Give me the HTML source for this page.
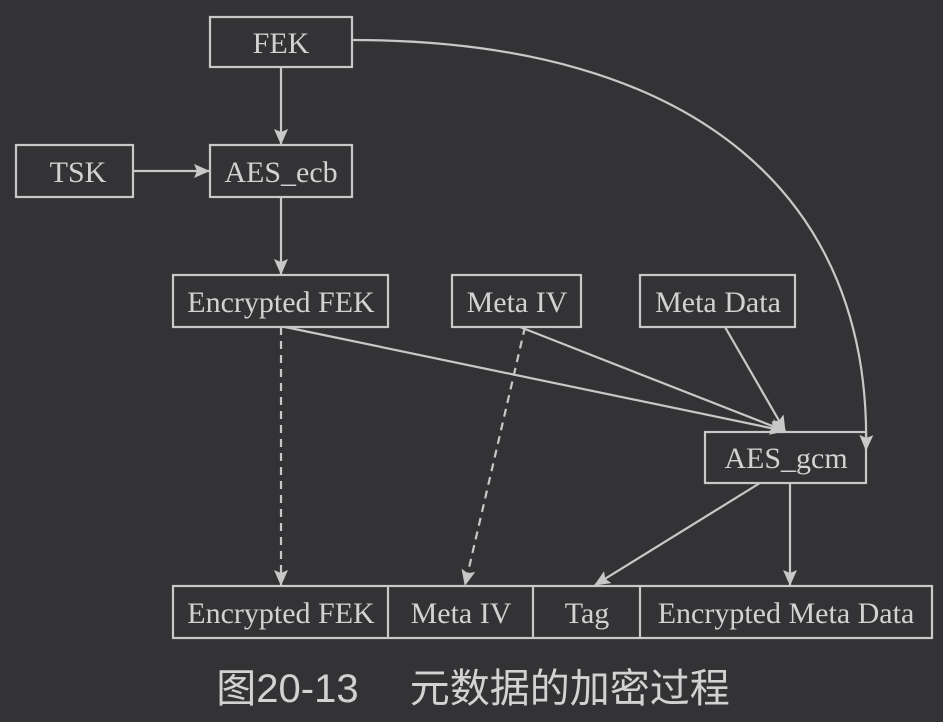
<!DOCTYPE html>
<html><head><style>
html,body{margin:0;padding:0;background:#333335;}
svg{display:block}
text{font-family:"Liberation Serif",serif;fill:#d2d2d2;font-size:30px;}
</style></head><body>
<svg width="943" height="722" viewBox="0 0 943 722">
<defs><marker id="a" markerWidth="16" markerHeight="16" refX="15" refY="8" orient="auto" markerUnits="userSpaceOnUse">
<path d="M0,1 L16,8 L0,15 L3,8 z" fill="#c8c8c8"/></marker></defs>
<g fill="none" stroke="#c8c8c8" stroke-width="2.2">
<rect x="210" y="17" width="142" height="50"/>
<rect x="16" y="145" width="117" height="52"/>
<rect x="210" y="145" width="142" height="52"/>
<rect x="173" y="275" width="215" height="52"/>
<rect x="452" y="275" width="129" height="52"/>
<rect x="640" y="275" width="155" height="52"/>
<rect x="705" y="432" width="161" height="51"/>
<rect x="173" y="586" width="759" height="52"/>
<line x1="388" y1="586" x2="388" y2="638"/>
<line x1="533" y1="586" x2="533" y2="638"/>
<line x1="640" y1="586" x2="640" y2="638"/>
<line x1="281" y1="67" x2="281" y2="144" marker-end="url(#a)"/>
<line x1="133" y1="171" x2="209" y2="171" marker-end="url(#a)"/>
<line x1="281" y1="197" x2="281" y2="274" marker-end="url(#a)"/>
<path d="M352,40 C700,40 872,200 866,450" marker-end="url(#a)"/>
<line x1="285" y1="327" x2="785" y2="431" marker-end="url(#a)"/>
<line x1="520" y1="327" x2="785" y2="431" marker-end="url(#a)"/>
<line x1="725" y1="327" x2="785" y2="431" marker-end="url(#a)"/>
<line x1="790" y1="483" x2="790" y2="585" marker-end="url(#a)"/>
<line x1="760" y1="483" x2="595" y2="585" marker-end="url(#a)"/>
<line x1="281" y1="327" x2="281" y2="585" stroke-dasharray="8,6" marker-end="url(#a)"/>
<line x1="525" y1="327" x2="465" y2="585" stroke-dasharray="8,6" marker-end="url(#a)"/>
</g>
<g text-anchor="middle">
<text x="281" y="53">FEK</text>
<text x="78" y="182">TSK</text>
<text x="281" y="182">AES_ecb</text>
<text x="281" y="312">Encrypted FEK</text>
<text x="517" y="312">Meta IV</text>
<text x="718" y="312">Meta Data</text>
<text x="786" y="468">AES_gcm</text>
<text x="281" y="623">Encrypted FEK</text>
<text x="461" y="623">Meta IV</text>
<text x="587" y="623">Tag</text>
<text x="786" y="623">Encrypted Meta Data</text>
<text x="473" y="702" style="font-family:'Liberation Sans','Noto Sans CJK SC',sans-serif;font-size:40px;" xml:space="preserve">图20-13　 元数据的加密过程</text>
</g>
</svg>
</body></html>
